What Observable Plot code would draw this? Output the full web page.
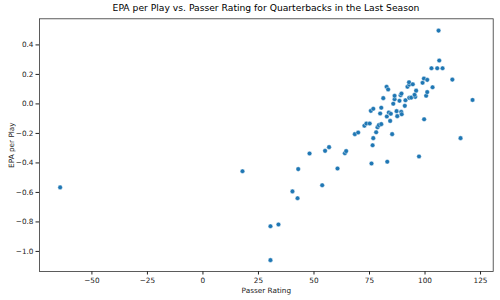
<!DOCTYPE html>
<html>
<head>
<meta charset="utf-8">
<script src="https://cdn.jsdelivr.net/npm/d3@7"></script>
<script src="https://cdn.jsdelivr.net/npm/@observablehq/plot@0.6"></script>
<style>
  body { margin: 0; background: #fff; }
  #wrap { width: 500px; height: 300px; font-family: "DejaVu Sans", sans-serif; }
  #title { height: 14px; width: 500px; position: relative; }
  #title span { position: absolute; left: 266px; top: 7px; transform: translate(-50%, -50%); font-size: 9.2px; color: #000; white-space: nowrap; }
</style>
</head>
<body>
<div id="wrap">
  <div id="title"><span>EPA per Play vs. Passer Rating for Quarterbacks in the Last Season</span></div>
  <div id="chart"></div>
</div>
<script>
const passerRating = [
  -64.3, 17.8, 30.4, 34.0, 30.4, 40.3, 42.6, 42.9, 48.0, 53.7,
  55.0, 56.8, 60.6, 63.9, 64.5, 68.4, 69.9, 72.7, 73.6, 75.1,
  75.9, 76.4, 76.7, 78.0, 78.6, 79.2, 80.3, 75.6, 76.7, 79.8,
  80.3, 81.2, 82.7, 83.4, 82.8, 83.0, 83.7, 84.6, 84.3, 85.2,
  85.7, 86.3, 86.3, 87.2, 87.5, 88.5, 89.0, 89.4, 89.3, 89.5,
  90.9, 91.2, 92.9, 93.8, 95.6, 95.3, 96.0, 92.1, 92.9, 92.8,
  94.5, 97.3, 98.9, 99.5, 101.0, 100.5, 101.0, 103.4, 99.6, 102.9,
  105.5, 107.9, 106.4, 106.1, 112.3, 121.4, 116.0
];
const epaPerPlay = [
  -0.566, -0.456, -0.829, -0.817, -1.059, -0.593, -0.639, -0.442, -0.336, -0.551,
  -0.318, -0.293, -0.438, -0.334, -0.320, -0.205, -0.194, -0.148, -0.133, -0.133,
  -0.404, -0.280, -0.232, -0.192, -0.158, -0.144, -0.137, -0.047, -0.033, -0.065,
  -0.026, 0.039, 0.116, 0.098, -0.085, -0.392, -0.058, -0.067, -0.115, -0.205,
  0.001, 0.032, 0.055, -0.049, -0.083, 0.021, 0.059, 0.070, -0.054, -0.070,
  -0.013, 0.025, 0.041, 0.043, 0.048, 0.062, 0.090, 0.116, 0.131, 0.147,
  0.133, -0.356, 0.143, 0.172, 0.163, 0.055, 0.080, 0.113, -0.104, 0.242,
  0.242, 0.242, 0.294, 0.497, 0.165, 0.027, -0.232
];
const xTicks = [-50, -25, 0, 25, 50, 75, 100, 125];
const yTicks = [-1.0, -0.8, -0.6, -0.4, -0.2, 0.0, 0.2, 0.4];

const data = passerRating.map((x, i) => ({x, y: epaPerPlay[i]}));

const chart = Plot.plot({
  width: 500,
  height: 286,
  marginTop: 4.3,
  marginBottom: 29,
  marginLeft: 39,
  marginRight: 7.3,
  style: {fontFamily: "DejaVu Sans, sans-serif", fontSize: "7px", color: "#222", background: "#fff"},
  x: {domain: [-73.6, 130.7], ticks: xTicks, tickFormat: d3.format("d")},
  y: {domain: [-1.136, 0.577], ticks: yTicks, tickFormat: d3.format(".1f")},
  marks: [
    Plot.axisX({ticks: xTicks, tickFormat: d3.format("d"), tickSize: 3.5, tickPadding: 2.5, label: "Passer Rating", labelAnchor: "center", labelArrow: "none", labelOffset: 21, fontSize: 7.3}),
    Plot.axisY({ticks: yTicks, tickFormat: d3.format(".1f"), tickSize: 3.5, tickPadding: 2.5, label: "EPA per Play", labelAnchor: "center", labelArrow: "none", labelOffset: 31, fontSize: 7.3}),
    Plot.dot(data, {x: "x", y: "y", r: 2.3, fill: "#1f77b4", stroke: "#fff", strokeWidth: 0.4}),
    Plot.frame({stroke: "#333", strokeWidth: 0.8})
  ]
});
document.getElementById("chart").appendChild(chart);
</script>
</body>
</html>
